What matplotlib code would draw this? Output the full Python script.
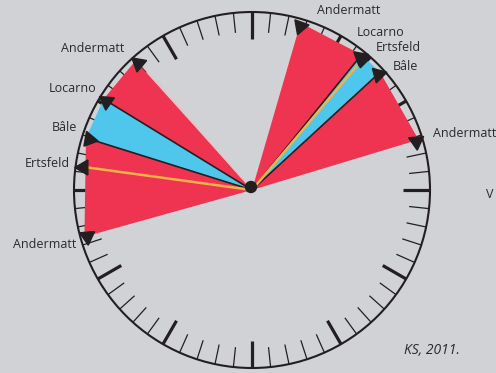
import numpy as np
import matplotlib
matplotlib.use("Agg")
import matplotlib.pyplot as plt
from matplotlib.patches import Polygon, Circle

# ---- data (minutes on the clock face) ----
left_stations = ["Andermatt", "Locarno", "Bâle", "Ertsfeld", "Andermatt"]
left_minutes = [53.0, 50.25, 47.9, 46.3, 42.4]
right_stations = ["Andermatt", "Locarno", "Ertsfeld", "Bâle", "Andermatt"]
right_minutes = [2.7, 6.5, 6.7, 7.9, 12.2]
credit = "KS, 2011."

# ---- style / layout ----
BG = "#d1d2d6"
RED = "#ee3450"
BLUE = "#4fc7ec"
YELLOW = "#f2b24a"
INK = "#231f20"
TXT = "#2a2a2a"
FONT = ["Open Sans", "DejaVu Sans"]

cx, cy, R = 252, 190, 178
Rw = 174

fig = plt.figure(figsize=(4.96, 3.73), dpi=100, facecolor=BG)
ax = fig.add_axes([0, 0, 1, 1])
ax.set_xlim(0, 496)
ax.set_ylim(373, 0)
ax.set_facecolor(BG)
ax.axis("off")


def pos(minute, r):
    t = minute / 60.0 * 2 * np.pi
    return cx + r * np.sin(t), cy - r * np.cos(t)


# ticks
for i in range(60):
    major = i % 5 == 0
    ln = 27 if major else 20
    x0, y0 = pos(i, R)
    x1, y1 = pos(i, R - ln)
    ax.plot([x0, x1], [y0, y1], color=INK, lw=2.3 if major else 0.9,
            solid_capstyle="butt", zorder=1)

# clock circle
ax.add_patch(Circle((cx, cy), R, fill=False, ec=INK, lw=1.5, zorder=4))


def draw_side(stations, minutes):
    m = {}
    for s, v in zip(stations, minutes):
        m.setdefault(s, []).append(v)
    a1, a2 = m["Andermatt"][0], m["Andermatt"][1]
    loc, bal, ert = m["Locarno"][0], m["Bâle"][0], m["Ertsfeld"][0]
    for (p, q, col) in [(a1, loc, RED), (loc, bal, BLUE), (bal, a2, RED)]:
        poly = Polygon([(cx, cy), pos(p, Rw), pos(q, Rw)], closed=True,
                       fc=col, ec="none", zorder=2)
        ax.add_patch(poly)
    for v in (loc, bal):
        x, y = pos(v, Rw)
        ax.plot([cx, x], [cy, y], color=INK, lw=1.2, zorder=3)
    x, y = pos(ert, Rw + 2)
    ax.plot([cx, x], [cy, y], color=YELLOW, lw=1.8, zorder=3)


draw_side(left_stations, left_minutes)
draw_side(right_stations, right_minutes)

# thin light edge on the upper-left Andermatt wedge
x, y = pos(left_minutes[0] + 0.1, Rw)
ax.plot([cx, x], [cy, y], color="#f7b9c0", lw=0.7, zorder=3)

# arrow heads (triangle markers) and labels
left_arrow_rot = [170, 175, 20, 90, 185]
right_arrow_rot = [160, 170, 165, 165, 185]
left_label_off = [(-13, -14), (-10, -12), (-12, -11), (-13, -3), (-11, 9)]
right_label_off = [(17, -15), (-3, -25), (13, -12), (15, -8), (17, -7)]

for stations, minutes, rots, offs, ha in [
        (left_stations, left_minutes, left_arrow_rot, left_label_off, "right"),
        (right_stations, right_minutes, right_arrow_rot, right_label_off, "left")]:
    for s, v, rot, (dx, dy) in zip(stations, minutes, rots, offs):
        x, y = pos(v, R - 7)
        ax.plot([x], [y], marker=(3, 0, rot), ms=12.5, color=INK,
                mec=INK, zorder=5, ls="none")
        ax.text(x + dx, y + dy, s, ha=ha, va="center", fontsize=9,
                family=FONT, color=TXT, zorder=6)

# centre dot
ax.add_patch(Circle((cx - 1, cy - 3), 6.2, fc=INK, ec="none", zorder=7))

ax.text(486, 195, "V", ha="left", va="center", fontsize=9, family=FONT,
        color=TXT)
ax.text(404, 350, credit, ha="left", va="center", fontsize=10, family=FONT,
        style="italic", color=TXT)

fig.savefig("out.png", dpi=100, facecolor=BG)
